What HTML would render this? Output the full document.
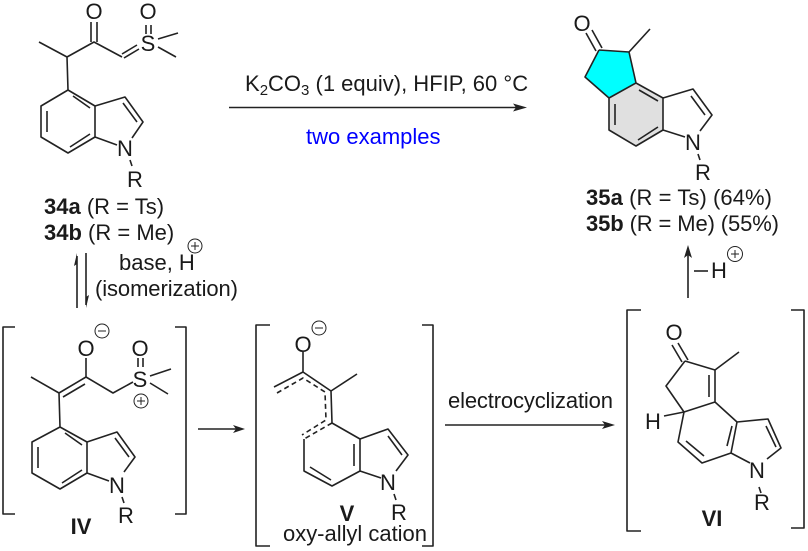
<!DOCTYPE html>
<html><head><meta charset="utf-8"><style>
html,body{margin:0;padding:0;background:#fff;width:808px;height:551px;overflow:hidden}
svg{display:block}
text{font-family:"Liberation Sans",sans-serif;font-size:22px;fill:#1a1a1a}
.a{text-anchor:middle;font-size:22px}
.b{font-weight:bold}
path{fill:none;stroke:#222;stroke-width:1.6;stroke-linejoin:round}
.c{fill:none;stroke:#222;stroke-width:1}
.h{fill:#222;stroke:none}
</style></head><body>
<svg width="808" height="551" viewBox="0 0 808 551" xmlns="http://www.w3.org/2000/svg">
<!-- fills -->
<polygon points="599,50 629,52 636,83 609,98 585,77" style="fill:#00ffff"/>
<polygon points="609,98 636,83 663,98 663,130 636,146 609,130" style="fill:#e0e0e0"/>

<!-- 34a -->
<path d="M39,42L67,57L94,42L122,57M67,57L68,90L41,106V137L68,153L95,137V106L68,90M95,106L125,97L143,122L132,138M95,137L117,145"/>
<path d="M91,42V22M97,42V22M122,54L137,45M124,58L139,49M146,34V25M151,34V25M158,39L178,33M158,47L176,57M47,111V132M70,147L90,134M73,96L90,108M123,103L137,122M130,160L132,166"/>
<text class="a" x="94" y="19">O</text><text class="a" x="148" y="19">O</text>
<text class="a" x="148" y="51">S</text><text class="a" x="125" y="156">N</text><text class="a" x="135" y="187">R</text>
<text x="44" y="214"><tspan class="b">34a</tspan> (R = Ts)</text>
<text x="44" y="240"><tspan class="b">34b</tspan> (R = Me)</text>

<!-- main arrow -->
<path d="M229,107.5H520"/><polygon class="h" points="527,107.5 513,103.5 516,107.5 513,111.5"/>
<text x="245" y="91">K<tspan font-size="15" dy="4">2</tspan><tspan dy="-4">CO</tspan><tspan font-size="15" dy="4">3</tspan><tspan dy="-4"> (1 equiv), HFIP, 60 °C</tspan></text>
<text x="306" y="144" style="fill:#0000ff">two examples</text>

<!-- 35 -->
<path d="M629,52L650,29M599,50L629,52L636,83L609,98L585,77L599,50M636,83L663,98V130L636,146L609,130V98M663,98L693,89L712,115L700,131M663,130L685,137"/>
<path d="M586,33L596,51M592,30L602,48M615,104V125M638,140L658,127M639,90L658,101M691,96L705,115M698,154L700,160"/>
<text class="a" x="582" y="31">O</text><text class="a" x="693" y="150">N</text><text class="a" x="703" y="180">R</text>
<text x="586" y="205" textLength="186"><tspan class="b">35a</tspan> (R = Ts) (64%)</text>
<text x="586" y="231" textLength="193"><tspan class="b">35b</tspan> (R = Me) (55%)</text>

<!-- equilibrium -->
<path d="M77,308V256M86,253V305"/>
<polygon class="h" points="77,253 74,266 77,264"/><polygon class="h" points="86,308 89,295 86,297"/>
<text x="119" y="270">base, H</text>
<circle class="c" cx="195" cy="246" r="7"/><path style="stroke-width:1" d="M191,246H199M195,242V250"/>
<text x="95" y="296" textLength="143">(isomerization)</text>

<!-- IV -->
<path d="M15,327H3V514H15M175,327H186V514H175"/>
<path d="M86,358V377L59,393L31,377M86,377L113,393L133,382M59,393L60,427L32,442V473L60,489L87,473V442L60,427M87,442L117,432L135,457L124,472M87,473L109,481"/>
<path d="M85,384L63,397M138,367V358M143,367V358M150,376L171,369M150,383L168,394M38,447V468M62,483L82,470M65,433L82,445M115,438L129,457M122,497L124,503"/>
<text class="a" x="86" y="356">O</text><text class="a" x="140" y="356">O</text><text class="a" x="140" y="387">S</text>
<text class="a" x="117" y="493">N</text><text class="a" x="126" y="523">R</text>
<circle class="c" cx="102" cy="331" r="7"/><path style="stroke-width:1" d="M98,331H106"/>
<circle class="c" cx="141" cy="401" r="7"/><path style="stroke-width:1" d="M137,401H145M141,397V405"/>
<text class="b a" x="81" y="534">IV</text>

<path d="M198,429H238"/><polygon class="h" points="245,429 233,425 236,429 233,433"/>

<!-- V -->
<path d="M270,325H256V546H270M422,325H433V546H422"/>
<path d="M303,352V372L274,387M303,372L331,391L357,374M331,391L332,423L360,439V471L332,486L304,471V439M360,439L388,429L408,455L396,471M360,471L381,478"/>
<path stroke-dasharray="5 3.5" d="M277,393L303,378L325,392L326,420L302,435M332,423L304,439"/>
<path d="M354,444V466M310,467L331,480M388,436L402,455M394,494L396,500"/>
<text class="a" x="303" y="352">O</text><text class="a" x="388" y="490">N</text><text class="a" x="399" y="520">R</text>
<circle class="c" cx="319" cy="328" r="7"/><path style="stroke-width:1" d="M315,328H323"/>
<text class="b a" x="347" y="521">V</text>
<text x="283" y="541" textLength="144">oxy-allyl cation</text>

<path d="M445,425H608"/><polygon class="h" points="615,425 602,421 605,425 602,429"/>
<text x="448" y="408" textLength="165">electrocyclization</text>

<!-- VI -->
<path d="M641,310H627V531H641M791,310H804V528H791"/>
<path d="M685,361L715,370L739,352M715,370V402L684,412L666,386L685,361M715,402L737,422L731,453L702,463L678,442L684,412M737,422L768,419L781,448L767,459M731,453L750,463M664,416L684,412"/>
<path d="M678,343L688,360M672,345L682,362M709,375V397M686,441L704,456M727,446L732,426M766,426L776,447M759,487L761,493"/>
<text class="a" x="674" y="340">O</text><text class="a" x="653" y="429">H</text>
<text class="a" x="757" y="478">N</text><text class="a" x="762" y="510">R</text>
<text class="b a" x="712" y="526">VI</text>

<!-- up arrow -->
<path d="M688,298V252"/><polygon class="h" points="688,245 684,258 688,255 692,258"/>
<path d="M694,271H708"/>
<text x="711" y="278">H</text>
<circle class="c" cx="735" cy="254" r="7.5"/><path style="stroke-width:1" d="M731,254H739M735,250V258"/>
</svg>
</body></html>
